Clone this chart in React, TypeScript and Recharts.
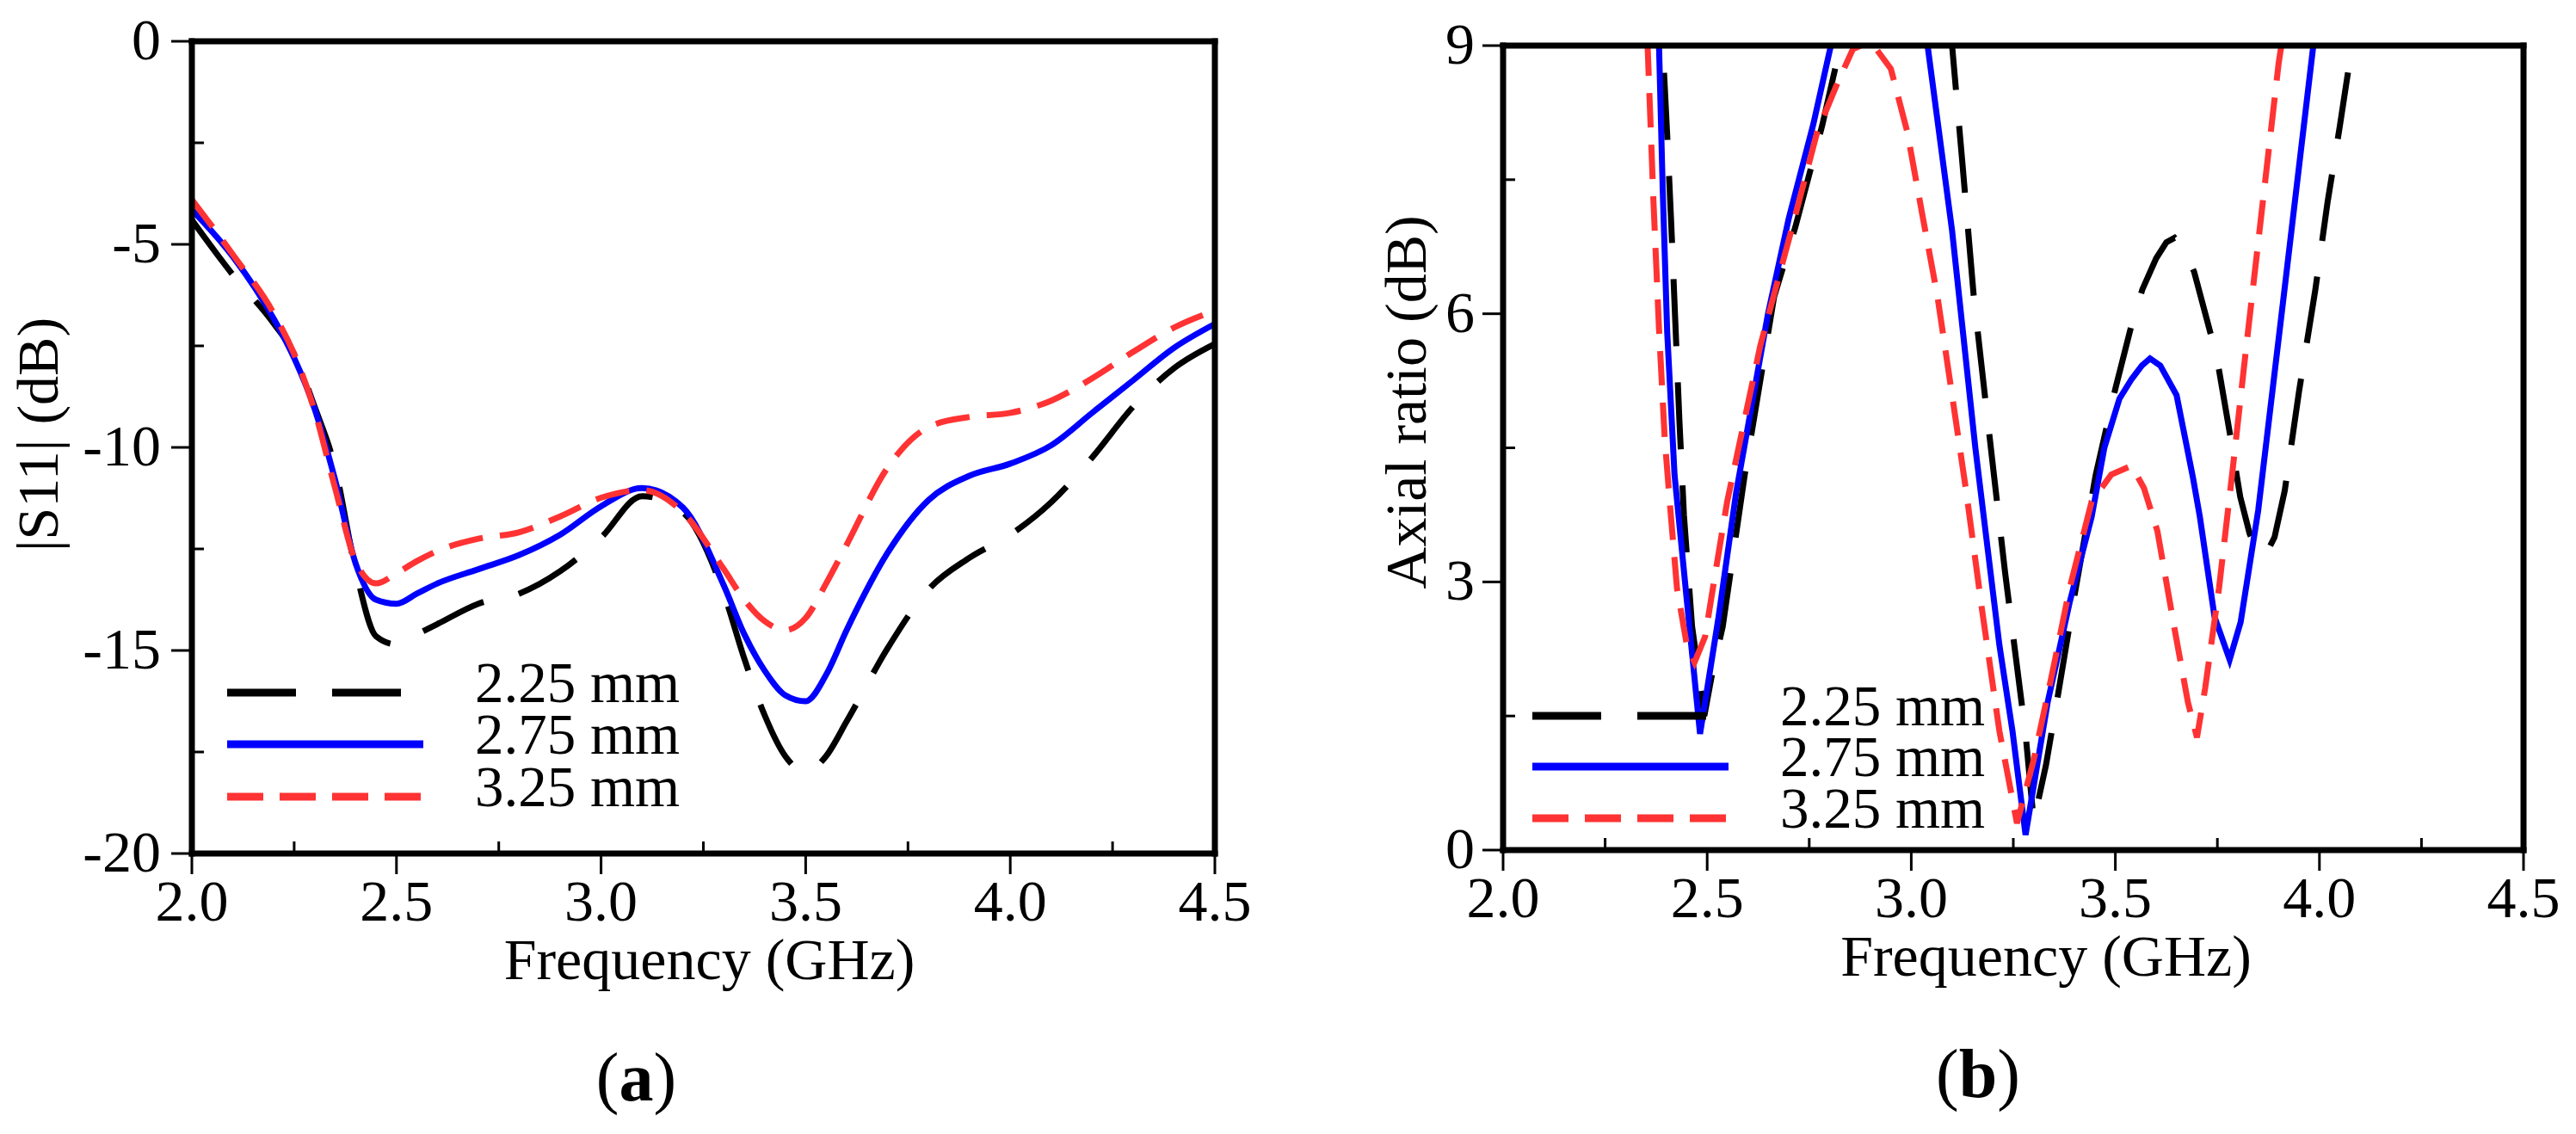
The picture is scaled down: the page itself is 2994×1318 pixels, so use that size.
import React from "react";
import { LineChart, Line, XAxis, YAxis, ReferenceLine, Legend } from "recharts";

const FONT = "'Liberation Serif', 'Times New Roman', Times, serif";

// shared axis ticks
const freqTicks = [2.0, 2.5, 3.0, 3.5, 4.0, 4.5];
const freqMinor = [2.25, 2.75, 3.25, 3.75, 4.25];
const s11Ticks = [-20, -15, -10, -5, 0];
const s11Minor = [-17.5, -12.5, -7.5, -2.5];
const arTicks = [0, 3, 6, 9];
const arMinor = [1.5, 4.5, 7.5];

const seriesNames = ["2.25 mm", "2.75 mm", "3.25 mm"];

// (a) |S11| vs frequency
const freqA = [2.0, 2.1, 2.2, 2.25, 2.3, 2.35, 2.4, 2.45, 2.5, 2.55, 2.6, 2.7, 2.8, 2.9, 3.0, 3.1, 3.2, 3.3, 3.35, 3.4, 3.45, 3.5, 3.55, 3.6, 3.7, 3.8, 3.9, 4.0, 4.1, 4.2, 4.3, 4.4, 4.5];
const s11_225 = [-4.4, -5.75, -6.95, -7.7, -9.0, -10.5, -13.0, -14.65, -14.85, -14.6, -14.35, -13.85, -13.6, -13.05, -12.22, -11.2, -11.6, -13.6, -15.2, -16.6, -17.6, -18.0, -17.6, -16.75, -14.95, -13.5, -12.72, -12.15, -11.35, -10.25, -9.0, -8.05, -7.45];
const s11_275 = [-4.15, -5.3, -6.83, -7.8, -9.05, -10.8, -12.85, -13.75, -13.85, -13.6, -13.35, -13.0, -12.65, -12.15, -11.45, -11.0, -11.48, -13.4, -14.6, -15.5, -16.1, -16.25, -15.6, -14.5, -12.6, -11.3, -10.7, -10.4, -9.95, -9.15, -8.35, -7.55, -6.96];
const s11_325 = [-3.9, -5.25, -6.7, -7.7, -9.1, -11.0, -12.8, -13.35, -13.1, -12.8, -12.55, -12.25, -12.09, -11.7, -11.24, -11.05, -11.6, -13.0, -13.75, -14.28, -14.5, -14.2, -13.35, -12.4, -10.5, -9.5, -9.25, -9.15, -8.85, -8.3, -7.65, -7.05, -6.63];

// (b) axial ratio vs frequency (values above 9 run off the top of the frame)
const freqB225 = [2.36, 2.391, 2.402, 2.412, 2.422, 2.432, 2.443, 2.463, 2.485, 2.493, 2.512, 2.538, 2.592, 2.664, 2.716, 2.782, 2.815, 2.83, 2.9, 2.97, 3.04, 3.1, 3.125, 3.153, 3.18, 3.205, 3.23, 3.255, 3.28, 3.3, 3.33, 3.36, 3.4, 3.452, 3.5, 3.54, 3.566, 3.6, 3.625, 3.645, 3.665, 3.693, 3.735, 3.754, 3.781, 3.806, 3.829, 3.85, 3.868, 3.89, 3.915, 3.95, 3.99, 4.02, 4.05, 4.08, 4.1];
const ar225 = [11.0, 9.0, 8.0, 7.0, 5.9, 4.8, 3.75, 2.5, 1.78, 1.5, 1.97, 2.5, 4.2, 6.19, 6.97, 8.11, 8.77, 9.0, 10.3, 10.8, 10.3, 9.0, 7.7, 6.2, 5.1, 4.1, 3.1, 2.2, 1.3, 0.32, 0.95, 1.75, 2.85, 4.2, 5.16, 5.88, 6.27, 6.62, 6.8, 6.85, 6.75, 6.47, 5.75, 5.37, 4.65, 3.95, 3.54, 3.33, 3.3, 3.5, 4.02, 5.13, 6.27, 7.25, 8.1, 9.0, 9.6];

const freqB275 = [2.37, 2.382, 2.391, 2.402, 2.42, 2.45, 2.4825, 2.528, 2.571, 2.649, 2.7, 2.76, 2.803, 2.85, 2.92, 2.99, 3.04, 3.1, 3.157, 3.216, 3.248, 3.28, 3.334, 3.388, 3.442, 3.473, 3.51, 3.54, 3.565, 3.585, 3.61, 3.65, 3.69, 3.707, 3.743, 3.78, 3.807, 3.85, 3.91, 3.985, 4.0];
const ar275 = [10.5, 9.0, 7.4, 5.8, 4.2, 2.8, 1.3, 2.61, 4.0, 6.0, 7.07, 8.12, 9.0, 10.0, 10.6, 10.2, 9.0, 6.93, 4.5, 2.29, 1.33, 0.17, 1.65, 2.77, 3.73, 4.5, 5.05, 5.27, 5.42, 5.5, 5.42, 5.09, 4.17, 3.73, 2.61, 2.13, 2.55, 3.8, 6.1, 9.0, 9.5];

const freqB325 = [2.345, 2.354, 2.368, 2.382, 2.396, 2.41, 2.426, 2.45, 2.469, 2.495, 2.52, 2.549, 2.63, 2.706, 2.77, 2.82, 2.857, 2.9, 2.95, 2.99, 3.027, 3.064, 3.1, 3.135, 3.173, 3.216, 3.259, 3.3, 3.345, 3.388, 3.442, 3.49, 3.54, 3.57, 3.603, 3.646, 3.678, 3.7, 3.72, 3.754, 3.786, 3.82, 3.86, 3.9, 3.92];
const ar325 = [10.2, 9.0, 7.3, 5.83, 4.6, 3.8, 2.93, 2.3, 2.1, 2.39, 3.1, 3.9, 5.64, 6.93, 8.04, 8.59, 8.96, 9.05, 8.74, 8.04, 7.11, 6.2, 5.09, 4.0, 2.7, 1.33, 0.3, 1.01, 1.97, 2.93, 3.9, 4.2, 4.3, 4.05, 3.57, 2.45, 1.65, 1.26, 1.81, 2.93, 4.2, 5.6, 7.2, 8.8, 9.4];

const STYLES = [
  { color: "#000000", dash: "78 42", legendDash: "80 42", legendLen: 202 },
  { color: "#0000ff", dash: undefined, legendDash: undefined, legendLen: 228 },
  { color: "#ff3333", dash: "40 20", legendDash: "42 19", legendLen: 228 },
];

const tableA = freqA.map((f, i) => ({ f, a: s11_225[i], b: s11_275[i], c: s11_325[i] }));
const pairs = (xs: number[], ys: number[]) => xs.map((f, i) => ({ f, v: ys[i] }));
const seriesB = [pairs(freqB225, ar225), pairs(freqB275, ar275), pairs(freqB325, ar325)];

const W_A = 1500;
const W_B = 1494;
const H = 1318;
const AX_W = 60;
const AX_H = 60;
const PLOT_A = { left: 223, top: 48, right: 1412, bottom: 992 };
const PLOT_B = { left: 247, top: 53, right: 1433, bottom: 988 };

type Box = { left: number; top: number; right: number; bottom: number };
const marginFor = (p: Box, w: number) => ({ top: p.top, left: p.left - AX_W, right: w - p.right, bottom: H - p.bottom - AX_H });

const textStyle = { fontFamily: FONT, fill: "#000" };
const isIn = (arr: number[], v: number) => arr.some(m => Math.abs(m - v) < 1e-9);

const makeXTick = (majors: number[]) => (props: any) => {
  const { x, y, payload } = props;
  const v = payload.value as number;
  if (!isIn(majors, v)) return <line x1={x} y1={y} x2={x} y2={y - 14} stroke="#000" strokeWidth={3} />;
  return (
    <g>
      <line x1={x} y1={y} x2={x} y2={y + 24} stroke="#000" strokeWidth={3} />
      <text x={x} y={y + 78} textAnchor="middle" fontSize={68} {...textStyle}>{v.toFixed(1)}</text>
    </g>
  );
};

const makeYTick = (majors: number[], gap: number) => (props: any) => {
  const { x, y, payload } = props;
  const v = payload.value as number;
  if (!isIn(majors, v)) return <line x1={x} y1={y} x2={x + 14} y2={y} stroke="#000" strokeWidth={3} />;
  return (
    <g>
      <line x1={x - 24} y1={y} x2={x} y2={y} stroke="#000" strokeWidth={3} />
      <text x={x - gap} y={y + 21} textAnchor="end" fontSize={68} {...textStyle}>{String(v)}</text>
    </g>
  );
};

const xTitle = (p: Box, dx: number, letter: string, ldx: number) => () => (
  <g>
    <text x={(p.left + p.right) / 2 + dx} y={p.bottom + 146} textAnchor="middle" fontSize={68} {...textStyle}>Frequency (GHz)</text>
    <text x={(p.left + p.right) / 2 + ldx} y={p.bottom + 287} textAnchor="middle" fontSize={80} {...textStyle}>
      (<tspan fontWeight="bold">{letter}</tspan>)
    </text>
  </g>
);

const yTitle = (p: Box, bx: number, dy: number, title: string) => () => {
  const cy = (p.top + p.bottom) / 2 + dy;
  return (
    <text x={bx} y={cy} transform={`rotate(-90, ${bx}, ${cy})`} textAnchor="middle" fontSize={68} {...textStyle}>{title}</text>
  );
};

const makeLegend = (rows: number[], lineX: number, textX: number) => () => (
  <svg width={600} height={210} style={{ overflow: "visible", display: "block" }}>
    {seriesNames.map((name, i) => (
      <g key={name}>
        <line x1={lineX} y1={rows[i]} x2={lineX + STYLES[i].legendLen} y2={rows[i]} stroke={STYLES[i].color} strokeWidth={9} strokeDasharray={STYLES[i].legendDash} />
        <text x={textX} y={rows[i] + 11} fontSize={67} {...textStyle}>{name}</text>
      </g>
    ))}
  </svg>
);

const frame = { stroke: "#000", strokeWidth: 7, strokeLinecap: "square" as const };

function PanelA() {
  return (
    <LineChart width={W_A} height={H} data={tableA} margin={marginFor(PLOT_A, W_A)}>
      <XAxis dataKey="f" type="number" domain={[2, 4.5]} ticks={[...freqTicks, ...freqMinor].sort((a, b) => a - b)} interval={0}
        height={AX_H} tickSize={0} tickMargin={0} tickLine={false} axisLine={frame} tick={makeXTick(freqTicks)}
        label={xTitle(PLOT_A, 7, "a", -78)} />
      <YAxis type="number" domain={[-20, 0]} ticks={[...s11Ticks, ...s11Minor].sort((a, b) => a - b)} interval={0}
        width={AX_W} tickSize={0} tickMargin={0} tickLine={false} axisLine={frame} tick={makeYTick(s11Ticks, 36)}
        label={yTitle(PLOT_A, 67, -15, "|S11| (dB)")} />
      {["a", "b", "c"].map((k, i) => (
        <Line key={k} dataKey={k} name={seriesNames[i]} type="monotone" stroke={STYLES[i].color} strokeWidth={7}
          strokeDasharray={STYLES[i].dash} dot={false} activeDot={false} isAnimationActive={false} />
      ))}
      <ReferenceLine y={s11Ticks[s11Ticks.length - 1]} {...frame} />
      <ReferenceLine x={freqTicks[freqTicks.length - 1]} {...frame} />
      <Legend layout="vertical" align="center" verticalAlign="middle" content={makeLegend([45, 105, 166], 14, 302)}
        wrapperStyle={{ left: 250, top: 760, width: 600, height: 210 }} />
    </LineChart>
  );
}

function PanelB() {
  return (
    <LineChart width={W_B} height={H} margin={marginFor(PLOT_B, W_B)}>
      <XAxis dataKey="f" type="number" domain={[2, 4.5]} ticks={[...freqTicks, ...freqMinor].sort((a, b) => a - b)} interval={0}
        height={AX_H} tickSize={0} tickMargin={0} tickLine={false} axisLine={frame} tick={makeXTick(freqTicks)}
        allowDataOverflow label={xTitle(PLOT_B, 38, "b", -41)} />
      <YAxis type="number" domain={[0, 9]} ticks={[...arTicks, ...arMinor].sort((a, b) => a - b)} interval={0}
        width={AX_W} tickSize={0} tickMargin={0} tickLine={false} axisLine={frame} tick={makeYTick(arTicks, 33)}
        allowDataOverflow label={yTitle(PLOT_B, 157, -53, "Axial ratio (dB)")} />
      {seriesB.map((d, i) => (
        <Line key={seriesNames[i]} data={d} dataKey="v" name={seriesNames[i]} type="linear" stroke={STYLES[i].color} strokeWidth={7}
          strokeDasharray={STYLES[i].dash} dot={false} activeDot={false} isAnimationActive={false} />
      ))}
      <ReferenceLine y={arTicks[arTicks.length - 1]} {...frame} />
      <ReferenceLine x={freqTicks[freqTicks.length - 1]} {...frame} />
      <Legend layout="vertical" align="center" verticalAlign="middle" content={makeLegend([52, 111, 171], 11, 299)}
        wrapperStyle={{ left: 270, top: 780, width: 600, height: 210 }} />
    </LineChart>
  );
}

export default function App() {
  return (
    <div style={{ position: "absolute", left: 0, top: 0, width: 2994, height: H, background: "#fff", overflow: "hidden" }}>
      <div style={{ position: "absolute", left: 0, top: 0 }}>
        <PanelA />
      </div>
      <div style={{ position: "absolute", left: 1500, top: 0 }}>
        <PanelB />
      </div>
    </div>
  );
}
